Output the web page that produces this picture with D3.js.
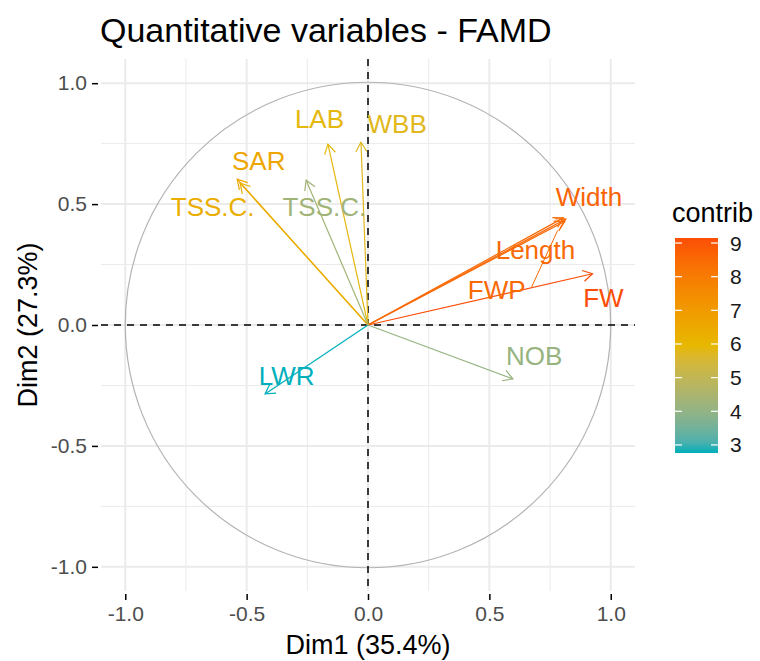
<!DOCTYPE html>
<html>
<head>
<meta charset="utf-8">
<script src="https://cdn.jsdelivr.net/npm/d3@7"></script>
<style>
  html, body { margin: 0; padding: 0; background: #fff; }
  svg { display: block; font-family: "Liberation Sans", Arial, sans-serif; }
</style>
</head>
<body>
<svg id="chart" width="760" height="661"></svg>
<script>
// ---- data ----
const variables = ["Width", "Length", "FWP", "FW", "NOB", "LWR", "LAB", "WBB", "SAR", "TSS.C.", "TSS.C."];
const dim1      = [0.815, 0.805, 0.810, 0.925, 0.597, -0.424, -0.165, -0.029, -0.539, -0.527, -0.255];
const dim2      = [0.438, 0.443, 0.428, 0.212, -0.223, -0.285, 0.748, 0.756, 0.603, 0.587, 0.599];
const contrib   = [8.65, 8.5, 8.5, 9.15, 4.1, 2.76, 5.9, 5.8, 6.6, 6.3, 4.3];
// repelled label positions (data units)
const labelX    = [0.91, 0.69, 0.53, 0.97, 0.685, -0.335, -0.20, 0.12, -0.45, -0.64, -0.18];
const labelY    = [0.53, 0.31, 0.145, 0.11, -0.13, -0.21, 0.85, 0.83, 0.68, 0.49, 0.49];
const ticks     = [-1.0, -0.5, 0.0, 0.5, 1.0];
const minorTicks = [-0.75, -0.25, 0.25, 0.75];
const legendTicks = [3, 4, 5, 6, 7, 8, 9];
const gradientCols = ["#00AFBB", "#E7B800", "#FC4E07"];
const titleText = "Quantitative variables - FAMD";
const xTitle = "Dim1 (35.4%)";
const yTitle = "Dim2 (27.3%)";
const legendTitle = "contrib";

// ---- layout ----
const svg = d3.select("#chart");
const panel = { left: 101, right: 635, top: 59, bottom: 591 };
const x = d3.scaleLinear().domain([-1.1, 1.1]).range([panel.left, panel.right]);
const y = d3.scaleLinear().domain([-1.1, 1.1]).range([panel.bottom, panel.top]);

const cmin = d3.min(contrib), cmax = d3.max(contrib);
const color = d3.scaleLinear()
  .domain([cmin, (cmin + cmax) / 2, cmax])
  .range(gradientCols)
  .interpolate(d3.interpolateLab);

// grid
const g = svg.append("g");
g.selectAll(".minx").data(minorTicks).join("line")
  .attr("x1", d => x(d)).attr("x2", d => x(d))
  .attr("y1", panel.top).attr("y2", panel.bottom)
  .attr("stroke", "#EBEBEB").attr("stroke-width", 1);
g.selectAll(".miny").data(minorTicks).join("line")
  .attr("y1", d => y(d)).attr("y2", d => y(d))
  .attr("x1", panel.left).attr("x2", panel.right)
  .attr("stroke", "#EBEBEB").attr("stroke-width", 1);
g.selectAll(".majx").data(ticks).join("line")
  .attr("x1", d => x(d)).attr("x2", d => x(d))
  .attr("y1", panel.top).attr("y2", panel.bottom)
  .attr("stroke", "#EBEBEB").attr("stroke-width", 2);
g.selectAll(".majy").data(ticks).join("line")
  .attr("y1", d => y(d)).attr("y2", d => y(d))
  .attr("x1", panel.left).attr("x2", panel.right)
  .attr("stroke", "#EBEBEB").attr("stroke-width", 2);

// axes
const xAxis = d3.axisBottom(x).tickValues(ticks).tickSize(6).tickPadding(6).tickFormat(d3.format(".1f"));
const yAxis = d3.axisLeft(y).tickValues(ticks).tickSize(6).tickPadding(5).tickFormat(d3.format(".1f"));
const gx = svg.append("g").attr("transform", `translate(0,${panel.bottom + 3})`).call(xAxis);
const gy = svg.append("g").attr("transform", `translate(${panel.left - 3},0)`).call(yAxis);
[gx, gy].forEach(a => {
  a.select(".domain").remove();
  a.selectAll(".tick line").attr("stroke", "#000").attr("stroke-width", 1.5);
  a.selectAll(".tick text").attr("fill", "#4D4D4D").style("font-size", "21px")
    .text(d => d === 0 ? "0.0" : d3.format(".1f")(d).replace("−", "-"));
});

// circle
svg.append("circle")
  .attr("cx", x(0)).attr("cy", y(0))
  .attr("r", x(1) - x(0))
  .attr("fill", "none").attr("stroke", "#B3B3B3").attr("stroke-width", 1.2);

// dashed zero lines
svg.append("line").attr("x1", x(0)).attr("x2", x(0)).attr("y1", panel.top).attr("y2", panel.bottom)
  .attr("stroke", "#000").attr("stroke-width", 1.5).attr("stroke-dasharray", "7,6");
svg.append("line").attr("y1", y(0)).attr("y2", y(0)).attr("x1", panel.left).attr("x2", panel.right)
  .attr("stroke", "#000").attr("stroke-width", 1.5).attr("stroke-dasharray", "7,6");

// arrows
const data = variables.map((v, i) => ({ name: v, x: dim1[i], y: dim2[i], c: contrib[i], lx: labelX[i], ly: labelY[i] }));
const headLen = 11, headAng = Math.PI / 6;
const arrows = svg.append("g");
data.forEach(d => {
  const x0 = x(0), y0 = y(0), x1 = x(d.x), y1 = y(d.y);
  const ang = Math.atan2(y1 - y0, x1 - x0);
  const col = color(d.c);
  arrows.append("line").attr("x1", x0).attr("y1", y0).attr("x2", x1).attr("y2", y1)
    .attr("stroke", col).attr("stroke-width", 1.2);
  const p1 = [x1 - headLen * Math.cos(ang - headAng), y1 - headLen * Math.sin(ang - headAng)];
  const p2 = [x1 - headLen * Math.cos(ang + headAng), y1 - headLen * Math.sin(ang + headAng)];
  arrows.append("path").attr("d", `M${p1[0]},${p1[1]}L${x1},${y1}L${p2[0]},${p2[1]}`)
    .attr("fill", "none").attr("stroke", col).attr("stroke-width", 1.2);
});

// repel segment for FWP label
const fwp = data[2];
svg.append("line")
  .attr("x1", x(fwp.lx) + 35).attr("y1", y(fwp.ly) - 3)
  .attr("x2", x(fwp.x) - 7).attr("y2", y(fwp.y) + 9)
  .attr("stroke", color(fwp.c)).attr("stroke-width", 1);

// labels
svg.append("g").selectAll("text").data(data).join("text")
  .attr("x", d => x(d.lx)).attr("y", d => y(d.ly))
  .attr("text-anchor", "middle").attr("dominant-baseline", "central")
  .attr("fill", d => color(d.c))
  .style("font-size", "26px")
  .text(d => d.name);

// titles
svg.append("text").attr("x", 100).attr("y", 42).style("font-size", "34px").attr("fill", "#000").text(titleText);
svg.append("text").attr("x", x(0)).attr("y", 654).attr("text-anchor", "middle").style("font-size", "27px").attr("fill", "#000").text(xTitle);
svg.append("text").attr("transform", `translate(37,${y(0)}) rotate(-90)`).attr("text-anchor", "middle")
  .style("font-size", "27px").attr("fill", "#000").text(yTitle);

// legend
const lg = { x: 675, w: 43, top: 238, bottom: 453 };
const ly = d3.scaleLinear().domain([cmin, cmax]).range([lg.bottom, lg.top]);
const defs = svg.append("defs");
const grad = defs.append("linearGradient").attr("id", "cgrad").attr("x1", 0).attr("x2", 0).attr("y1", 1).attr("y2", 0);
d3.range(0, 1.0001, 0.05).forEach(t => {
  grad.append("stop").attr("offset", t).attr("stop-color", color(cmin + t * (cmax - cmin)));
});
svg.append("rect").attr("x", lg.x).attr("y", lg.top).attr("width", lg.w).attr("height", lg.bottom - lg.top)
  .attr("fill", "url(#cgrad)");
const lt = svg.append("g");
legendTicks.forEach(t => {
  lt.append("line").attr("x1", lg.x).attr("x2", lg.x + 7).attr("y1", ly(t)).attr("y2", ly(t)).attr("stroke", "#fff").attr("stroke-width", 1.2);
  lt.append("line").attr("x1", lg.x + lg.w - 7).attr("x2", lg.x + lg.w).attr("y1", ly(t)).attr("y2", ly(t)).attr("stroke", "#fff").attr("stroke-width", 1.2);
  lt.append("text").attr("x", lg.x + lg.w + 12).attr("y", ly(t)).attr("dominant-baseline", "central")
    .style("font-size", "21px").attr("fill", "#1A1A1A").text(t);
});
svg.append("text").attr("x", 672).attr("y", 222).style("font-size", "27px").attr("fill", "#000").text(legendTitle);
</script>
</body>
</html>
